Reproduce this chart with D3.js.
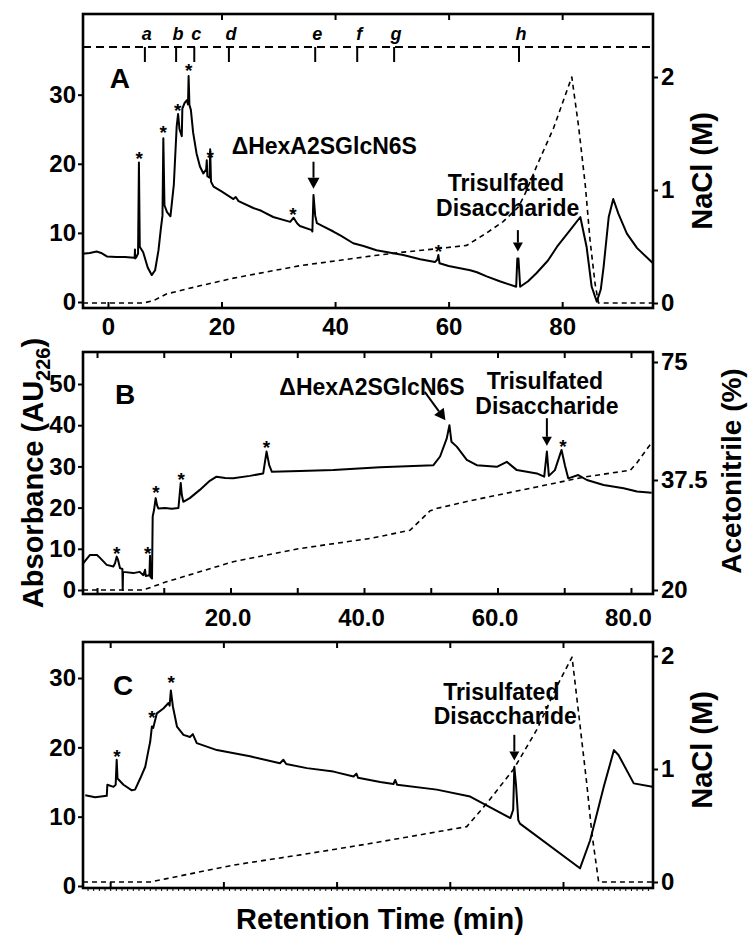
<!DOCTYPE html>
<html>
<head>
<meta charset="utf-8">
<script src="https://cdn.jsdelivr.net/npm/d3@7"></script>
<style>
  body { margin: 0; background: #fff; }
  svg { display: block; }
</style>
</head>
<body>
<svg id="fig" width="749" height="935"></svg>
<script>
// ---------- Panel A: anion-exchange run, absorbance and NaCl gradient ----------
const traceA = [[-4.5,7.0],[-3.2,7.1],[-2.0,7.3],[-1.2,7.1],[-0.2,6.6],[1.5,6.5],[3.0,6.5],[4.6,6.4],[4.7,6.4],[4.75,7.6],[4.8,6.3],[5.0,6.5],[5.3,7.0],[5.45,20.2],[5.6,8.0],[6.2,7.2],[7.0,5.0],[7.7,3.9],[8.3,4.6],[8.9,7.5],[9.3,10.5],[9.6,12.5],[9.75,23.7],[9.95,14.0],[10.4,13.0],[11.0,12.4],[11.6,17.0],[12.1,25.4],[12.35,27.2],[12.6,25.0],[13.0,24.0],[13.1,28.0],[13.5,28.8],[13.9,29.2],[14.1,28.6],[14.2,32.7],[14.35,28.5],[14.6,27.8],[15.0,24.5],[15.6,21.5],[16.2,19.6],[16.8,18.6],[17.3,19.2],[17.4,20.5],[17.5,18.2],[17.9,18.0],[18.0,22.1],[18.15,17.4],[18.6,16.7],[20.0,16.0],[22.1,14.9],[22.5,15.2],[23.0,14.6],[25.6,13.6],[27.0,13.2],[29.1,12.3],[32.1,11.6],[32.7,12.2],[33.3,11.4],[33.8,11.0],[35.9,10.4],[36.0,10.2],[36.2,15.5],[36.5,12.5],[36.8,11.4],[38.0,10.9],[39.7,10.2],[41.0,9.6],[43.2,8.5],[45.0,8.1],[47.3,7.5],[50.0,7.1],[52.0,6.8],[55.0,6.2],[57.6,5.8],[58.0,6.1],[58.2,6.8],[58.4,5.6],[60.0,5.2],[63.8,4.6],[65.0,4.3],[66.7,3.7],[69.0,3.0],[71.9,2.2],[72.1,6.3],[72.3,6.3],[72.6,2.2],[74.0,3.0],[75.5,4.2],[77.5,6.0],[79.1,8.0],[81.4,10.4],[83.2,12.3],[84.3,8.0],[85.2,2.2],[86.1,0.05],[86.8,1.8],[87.3,5.1],[88.2,12.3],[89.0,14.9],[89.9,12.8],[91.4,9.9],[93.2,7.8],[96.0,5.6]];
const naclA = [[-4.4,0.0],[6.2,0.0],[8.0,0.02],[10.3,0.08],[16.0,0.15],[22.1,0.22],[33.8,0.33],[47.0,0.42],[52.0,0.45],[57.9,0.48],[63.2,0.51],[66.7,0.62],[69.6,0.72],[72.3,0.85],[73.5,0.97],[75.5,1.21],[78.5,1.55],[81.7,2.0],[82.9,1.56],[84.1,1.03],[84.9,0.56],[85.8,0.17],[86.4,0.0],[96.0,0.0]];
const fractionLabels = ["a","b","c","d","e","f","g","h"];
const fractionTimes = [6.5, 12.0, 15.2, 21.3, 36.5, 43.9, 50.4, 72.4];
const starsA = [[5.5,21.4],[9.74,25.2],[12.3,28.3],[14.2,34.1],[18.0,21.6],[32.6,13.3],[58.2,7.9]];
const xTicksA = [0, 20, 40, 60, 80];
const yTicksA = [0, 10, 20, 30];
const naclTicks = [0, 1, 2];

// ---------- Panel B: reversed-phase run, absorbance and acetonitrile ----------
const traceB = [[-2.05,6.5],[-1.05,8.5],[0,8.5],[0.45,7.8],[1.45,6.1],[2.45,5.7],[2.7,6.5],[2.95,8.1],[3.15,7.3],[3.45,5.3],[3.8,5.1],[3.85,0],[3.9,4.4],[5.44,4.1],[6.4,4.4],[6.94,3.6],[7.2,4.9],[7.3,3.4],[7.85,3.6],[7.94,8.3],[8.0,3.2],[8.24,2.8],[8.34,17.8],[8.54,19.4],[8.79,22.3],[8.99,20.6],[9.18,19.8],[10.2,19.9],[11.2,19.7],[12.2,19.9],[12.54,26.0],[12.7,23.1],[12.93,21.4],[13.9,22.3],[15.4,24.3],[16.9,26.5],[17.9,27.5],[19.2,27.2],[20.4,27.1],[22.9,27.7],[24.9,28.3],[25.4,33.6],[25.8,30.3],[26.2,28.7],[30.4,28.9],[35.4,29.1],[42.4,29.8],[50.4,30.3],[51.4,32.4],[52.4,36.8],[52.8,40.0],[53.1,36.0],[53.9,34.8],[55.4,31.6],[56.9,30.3],[59.9,29.9],[61.4,31.1],[62.9,29.1],[65.9,28.3],[67.0,27.5],[67.4,33.6],[67.7,27.7],[68.6,29.1],[69.6,34.0],[70.1,30.3],[70.6,27.1],[72.1,27.9],[73.4,26.7],[75.9,25.5],[78.9,24.7],[80.9,23.9],[83.1,23.6]];
const acnB = [[-2.1,20],[6.9,20],[10.4,21.3],[20.4,24.5],[30.4,26.6],[40.9,28.2],[46.9,29.5],[49.9,32.6],[51.0,33.0],[55.9,34.2],[65.9,36.4],[72.9,38.4],[79.9,40.6],[80.9,43.0],[83.3,50.0]];
const starsB = [[2.95,9.9],[7.6,9.9],[8.84,24.7],[12.6,27.9],[25.4,35.8],[69.8,36.0]];
const xTicksB = [0, 10, 20, 30, 40, 50, 60, 70, 80];
const xLabelsB = [20, 40, 60, 80];
const yTicksB = [0, 10, 20, 30, 40, 50];
const acnTicks = [20, 37.5, 75];

// ---------- Panel C: anion-exchange run, absorbance and NaCl gradient ----------
const traceC = [[-4.4,13.1],[-2.65,12.8],[-0.6,13.0],[-0.5,14.6],[0.58,14.3],[0.97,14.6],[1.15,18.2],[1.3,15.5],[2.35,14.6],[3.83,13.8],[4.4,13.9],[5.3,15.5],[6.2,17.2],[6.77,19.6],[7.07,20.8],[7.37,23.0],[7.6,22.8],[8.25,24.9],[9.4,25.6],[10.3,26.4],[10.5,26.0],[10.72,28.2],[11.08,25.9],[11.8,23.0],[12.95,21.8],[14.1,21.5],[14.6,21.9],[15.3,20.6],[18.85,19.6],[24.7,18.7],[30.0,17.7],[30.6,18.2],[31.1,17.6],[34.75,17.0],[39.45,16.5],[43.0,15.8],[43.5,16.2],[43.8,15.6],[47.7,15.0],[50.05,14.7],[50.35,15.3],[50.7,14.6],[57.7,13.9],[63.6,12.9],[70.7,9.8],[71.2,11.0],[71.4,17.2],[71.7,14.6],[72.1,9.5],[72.4,9.0],[83.0,2.55],[84.8,6.6],[87.2,14.3],[89.0,19.6],[89.8,18.9],[92.5,14.8],[95.8,14.3]];
const naclC = [[-4.8,0.0],[7.1,0.0],[10.0,0.03],[21.8,0.15],[33.6,0.24],[45.9,0.34],[63.0,0.49],[66.6,0.70],[71.3,1.0],[75.4,1.35],[78.9,1.73],[81.6,1.99],[82.7,1.52],[84.2,0.87],[85.1,0.43],[86.3,0.0],[95.9,0.0]];
const starsC = [[1.2,19.4],[7.4,25.0],[10.8,30.0]];
const xTicksC = [0, 20, 40, 60, 80];
const yTicksC = [0, 10, 20, 30];

// ---------- drawing ----------
const FONT = '"Liberation Sans", Arial, Helvetica, sans-serif';
const svg = d3.select("#fig");
const L = 83, R = 653;
const TICK_FONT = 24, TITLE_FONT = 29, NOTE_FONT = 23;
const intFmt = d3.format("d");

function styleAxis(sel) {
  sel.attr("font-family", FONT).attr("font-size", TICK_FONT).attr("font-weight", "bold");
  sel.select(".domain").remove();
  sel.selectAll(".tick line").attr("stroke", "#000").attr("stroke-width", 2);
  sel.selectAll(".tick text").attr("fill", "#000");
}

function frame(top, bottom) {
  svg.append("rect")
    .attr("x", L).attr("y", top).attr("width", R - L).attr("height", bottom - top)
    .attr("fill", "none").attr("stroke", "#000").attr("stroke-width", 2.6);
}

function drawLine(data, x, y, opts) {
  const line = d3.line().x(d => x(d[0])).y(d => y(d[1]));
  svg.append("path").datum(data)
    .attr("d", line)
    .attr("fill", "none")
    .attr("stroke", "#000")
    .attr("stroke-width", opts.width)
    .attr("stroke-linejoin", "round")
    .attr("stroke-dasharray", opts.dash || null);
}

function stars(data, x, y) {
  svg.append("g").selectAll("text").data(data).join("text")
    .attr("x", d => x(d[0])).attr("y", d => y(d[1]))
    .attr("dy", "0.58em")
    .attr("text-anchor", "middle")
    .attr("font-family", FONT).attr("font-weight", "bold").attr("font-size", 19)
    .text("*");
}

function note(lines, xc, yc) {
  lines.forEach(l => {
    svg.append("text")
      .attr("x", xc(l)).attr("y", yc(l)).attr("dy", "0.36em")
      .attr("text-anchor", "middle")
      .attr("font-family", FONT).attr("font-weight", "bold").attr("font-size", NOTE_FONT)
      .text(l.text);
  });
}

function arrow(x1, y1, x2, y2, headLen, headHalf) {
  const dx = x2 - x1, dy = y2 - y1, len = Math.hypot(dx, dy);
  const ux = dx / len, uy = dy / len;
  const bx = x2 - ux * headLen, by = y2 - uy * headLen;
  svg.append("line").attr("x1", x1).attr("y1", y1).attr("x2", bx).attr("y2", by)
    .attr("stroke", "#000").attr("stroke-width", 2);
  svg.append("path")
    .attr("d", `M${x2},${y2}L${bx - uy * headHalf},${by + ux * headHalf}L${bx + uy * headHalf},${by - ux * headHalf}Z`)
    .attr("fill", "#000");
}

function panelLetter(letter, x, y, t, v) {
  svg.append("text").attr("x", x(t)).attr("y", y(v)).attr("dy", "0.36em")
    .attr("font-family", FONT).attr("font-weight", "bold").attr("font-size", 28)
    .text(letter);
}

function vTitle(parts, xBase, yCenter, size) {
  const t = svg.append("text")
    .attr("transform", `translate(${xBase},${yCenter}) rotate(-90)`)
    .attr("text-anchor", "middle")
    .attr("font-family", FONT).attr("font-weight", "bold").attr("font-size", size || TITLE_FONT);
  parts.forEach(p => {
    const s = t.append("tspan").text(p.text);
    if (p.size) s.attr("font-size", p.size);
    if (p.dy) s.attr("dy", p.dy);
  });
}

// ----- Panel A -----
(function () {
  const top = 14, bottom = 308;
  const x = d3.scaleLinear().domain([-4.4, 96.0]).range([L, R]);
  const y = d3.scaleLinear().domain([0, 30]).range([302, 94.7]);
  const y2 = d3.scaleLinear().domain([0, 2]).range([303, 77]);

  svg.append("g").attr("transform", `translate(0,${bottom})`)
    .call(d3.axisBottom(x).tickValues(xTicksA).tickSize(-6).tickPadding(10).tickFormat(intFmt)).call(styleAxis);
  svg.append("g").attr("transform", `translate(0,${top})`)
    .call(d3.axisTop(x).tickValues(xTicksA.slice(1)).tickSize(-6).tickFormat("")).call(styleAxis);
  svg.append("g").attr("transform", `translate(${L},0)`)
    .call(d3.axisLeft(y).tickValues(yTicksA).tickSize(5).tickPadding(2).tickFormat(intFmt)).call(styleAxis);
  svg.append("g").attr("transform", `translate(${R},0)`)
    .call(d3.axisRight(y2).tickValues(naclTicks).tickSize(5).tickPadding(3).tickFormat(intFmt)).call(styleAxis);

  // fraction collection marks along the top
  const fy = 47;
  svg.append("line").attr("x1", L).attr("x2", R).attr("y1", fy).attr("y2", fy)
    .attr("stroke", "#000").attr("stroke-width", 2).attr("stroke-dasharray", "8,5");
  svg.append("g").selectAll("line").data(fractionTimes).join("line")
    .attr("x1", d => x(d)).attr("x2", d => x(d)).attr("y1", fy).attr("y2", fy + 15)
    .attr("stroke", "#000").attr("stroke-width", 2);
  svg.append("g").selectAll("text").data(fractionLabels).join("text")
    .attr("x", (d, i) => x(fractionTimes[i]) + 2).attr("y", 40)
    .attr("text-anchor", "middle")
    .attr("font-family", FONT).attr("font-weight", "bold").attr("font-style", "italic").attr("font-size", 18)
    .text(d => d);

  drawLine(naclA, x, y2, { width: 1.6, dash: "5,4" });
  drawLine(traceA, x, y, { width: 2 });
  stars(starsA, x, y);
  panelLetter("A", x, y, 0.3, 32.4);

  note([{ text: "\u0394HexA2SGlcN6S", t: 38.1, v: 22.6 }], d => x(d.t), d => y(d.v));
  arrow(x(36.2), y(20.3), x(36.2), y(16.4), 11, 6);
  note([{ text: "Trisulfated", t: 70.1, v: 17.3 }, { text: "Disaccharide", t: 70.4, v: 13.6 }], d => x(d.t), d => y(d.v));
  arrow(x(72.2), y(10.4), x(72.2), y(7.3), 9, 5);

  frame(top, bottom);
  vTitle([{ text: "NaCl (M)" }], 712, 171);
})();

// ----- Panel B -----
(function () {
  const top = 352, bottom = 594;
  const x = d3.scaleLinear().domain([-2.1, 83.3]).range([L, R]);
  const y = d3.scaleLinear().domain([0, 50]).range([590, 384]);
  const y2 = d3.scaleLinear().domain([20, 37.5, 75]).range([590, 480, 362]);

  svg.append("g").attr("transform", `translate(0,${bottom})`)
    .call(d3.axisBottom(x).tickValues(xTicksB).tickSize(-6).tickFormat("")).call(styleAxis);
  svg.append("g").attr("transform", `translate(-3,${bottom})`)
    .call(d3.axisBottom(x).tickValues(xLabelsB).tickSize(0).tickPadding(15).tickFormat(d3.format(".1f"))).call(styleAxis);
  svg.append("g").attr("transform", `translate(0,${top})`)
    .call(d3.axisTop(x).tickValues(xTicksB).tickSize(-6).tickFormat("")).call(styleAxis);
  svg.append("g").attr("transform", `translate(${L},0)`)
    .call(d3.axisLeft(y).tickValues(yTicksB).tickSize(5).tickPadding(2).tickFormat(intFmt)).call(styleAxis);
  svg.append("g").attr("transform", `translate(${R},0)`)
    .call(d3.axisRight(y2).tickValues(acnTicks).tickSize(5).tickPadding(3).tickFormat(d => String(d))).call(styleAxis);

  drawLine(acnB, x, y2, { width: 1.6, dash: "5,4" });
  drawLine(traceB, x, y, { width: 2 });
  stars(starsB, x, y);
  panelLetter("B", x, y, 2.7, 47.6);

  note([{ text: "\u0394HexA2SGlcN6S", t: 41.2, v: 49.3 }], d => x(d.t), d => y(d.v));
  arrow(x(49.1), y(48.1), x(52.2), y(41.2), 11, 6);
  note([{ text: "Trisulfated", t: 67.1, v: 50.7 }, { text: "Disaccharide", t: 67.4, v: 44.7 }], d => x(d.t), d => y(d.v));
  arrow(x(67.4), y(41.7), x(67.4), y(35.0), 9, 5);

  frame(top, bottom);
  vTitle([{ text: "Absorbance (AU" }, { text: "226", size: 20, dy: 7 }, { text: ")", dy: -7 }], 43, 473);
  vTitle([{ text: "Acetonitrile (%)" }], 741, 471, 28);
})();

// ----- Panel C -----
(function () {
  const top = 642, bottom = 888;
  const x = d3.scaleLinear().domain([-4.8, 95.9]).range([L, R]);
  const y = d3.scaleLinear().domain([0, 30]).range([886, 678]);
  const y2 = d3.scaleLinear().domain([0, 2]).range([882, 656]);

  svg.append("g").attr("transform", `translate(0,${bottom})`)
    .call(d3.axisBottom(x).tickValues(d3.range(-4, 96, 1)).tickSize(3).tickFormat("")).call(styleAxis)
    .selectAll(".tick line").attr("stroke-width", 1);
  svg.append("g").attr("transform", `translate(0,${bottom})`)
    .call(d3.axisBottom(x).tickValues(xTicksC).tickSize(-6).tickFormat("")).call(styleAxis);
  svg.append("g").attr("transform", `translate(0,${top})`)
    .call(d3.axisTop(x).tickValues(xTicksC).tickSize(-6).tickFormat("")).call(styleAxis);
  svg.append("g").attr("transform", `translate(${L},0)`)
    .call(d3.axisLeft(y).tickValues(yTicksC).tickSize(5).tickPadding(2).tickFormat(intFmt)).call(styleAxis);
  svg.append("g").attr("transform", `translate(${R},0)`)
    .call(d3.axisRight(y2).tickValues(naclTicks).tickSize(5).tickPadding(3).tickFormat(intFmt)).call(styleAxis);

  drawLine(naclC, x, y2, { width: 1.6, dash: "5,4" });
  drawLine(traceC, x, y, { width: 2 });
  stars(starsC, x, y);
  panelLetter("C", x, y, 0.5, 29.0);

  note([{ text: "Trisulfated", t: 69.1, v: 28.0 }, { text: "Disaccharide", t: 69.8, v: 24.6 }], d => x(d.t), d => y(d.v));
  arrow(x(71.4), y(21.8), x(71.4), y(18.1), 9, 5);

  frame(top, bottom);
  vTitle([{ text: "NaCl (M)" }], 712, 750);

  svg.append("text").attr("x", 380).attr("y", 929)
    .attr("text-anchor", "middle")
    .attr("font-family", FONT).attr("font-weight", "bold").attr("font-size", TITLE_FONT)
    .text("Retention Time (min)");
})();
</script>
</body>
</html>
